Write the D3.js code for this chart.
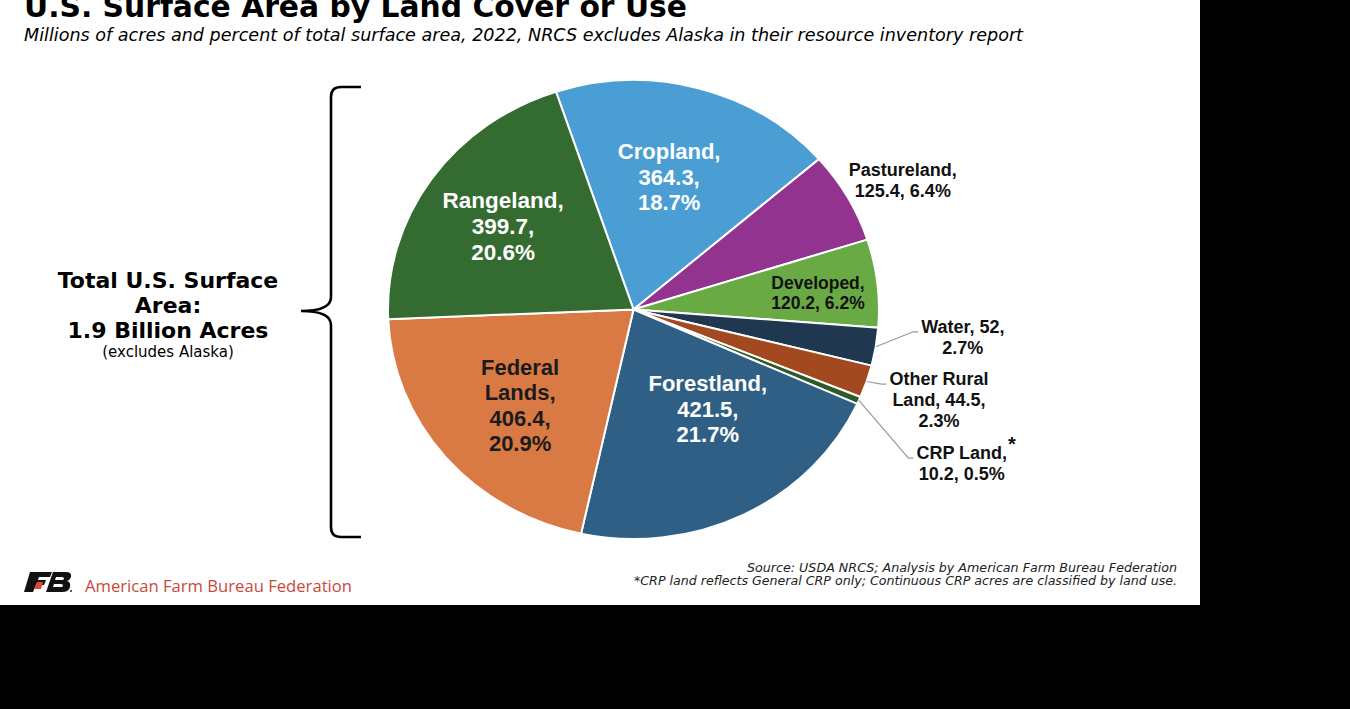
<!DOCTYPE html>
<html>
<head>
<meta charset="utf-8">
<script src="https://cdn.jsdelivr.net/npm/d3@7"></script>
<style>
  html, body { margin: 0; padding: 0; background: #000; }
  svg { display: block; }
</style>
</head>
<body>
<div id="chart"></div>
<script>
// values in millions of acres, 2022 (NRCS, excludes Alaska)
const categories = ["Cropland", "Pastureland", "Developed", "Water", "Other Rural Land",
  "CRP Land", "Forestland", "Federal Lands", "Rangeland"];
const acres = [364.3, 125.4, 120.2, 52, 44.5, 10.2, 421.5, 406.4, 399.7];
const percents = ["18.7%", "6.4%", "6.2%", "2.7%", "2.3%", "0.5%", "21.7%", "20.9%", "20.6%"];
const colors = ["#4a9ed4", "#92338f", "#6aaa45", "#1f3850", "#a2491f",
  "#2d5a27", "#2f5f84", "#d97944", "#336b30"];

// how many words go on each label line
const wrap = [[1, 1, 1], [1, 2], [1, 2], [2, 1], [2, 2, 1], [2, 2], [1, 1, 1], [1, 1, 1, 1], [1, 1, 1]];
// label placement: radius factor, angle shift (deg), font size, text colour, leader line
const place = [
  [0.595, -1.2, 22, "#fff", false],
  [1.234, 2.1, 18, "#111", false],
  [0.755, 1.1, 17.5, "#111", false],
  [1.347, -4.2, 18, "#111", true],
  [1.305, -0.7, 18, "#111", true],
  [1.496, 3.3, 18, "#111", true],
  [0.529, -8.2, 22, "#fff", false],
  [0.622, -2.0, 22, "#1b1b1b", false],
  [0.644, -0.2, 22.5, "#fff", false]
];

const width = 1350, height = 709;
const cx = 633.5, cy = 309.5, rx = 245.5, ry = 229.5;

const svg = d3.select("#chart").append("svg")
  .attr("width", width)
  .attr("height", height);

svg.append("rect")
  .attr("width", 1200)
  .attr("height", 605)
  .attr("fill", "#fff");

// title block (top is cropped in the original)
svg.append("text")
  .attr("x", 24).attr("y", 17)
  .attr("font-family", "DejaVu Sans").attr("font-weight", "bold")
  .attr("font-size", 30)
  .attr("textLength", 663).attr("lengthAdjust", "spacingAndGlyphs")
  .text("U.S. Surface Area by Land Cover or Use");

svg.append("text")
  .attr("x", 24).attr("y", 41)
  .attr("font-family", "DejaVu Sans").attr("font-style", "italic")
  .attr("font-size", 17)
  .attr("textLength", 999).attr("lengthAdjust", "spacingAndGlyphs")
  .text("Millions of acres and percent of total surface area, 2022, NRCS excludes Alaska in their resource inventory report");

// pie
const pie = d3.pie()
  .sort(null)
  .startAngle(-18.4 * Math.PI / 180)
  .endAngle((360 - 18.4) * Math.PI / 180);

const arcs = pie(acres);

const arc = d3.arc()
  .innerRadius(0)
  .outerRadius(ry);

const pieG = svg.append("g")
  .attr("transform", `translate(${cx},${cy}) scale(${rx / ry},1)`);

pieG.selectAll("path")
  .data(arcs)
  .join("path")
  .attr("d", arc)
  .attr("fill", (d, i) => colors[i])
  .attr("stroke", "#fff")
  .attr("stroke-width", 2)
  .attr("vector-effect", "non-scaling-stroke");

function polar(a, r) {
  return [cx + r * rx * Math.sin(a), cy - r * ry * Math.cos(a)];
}

const labels = svg.append("g")
  .attr("font-family", "Liberation Sans, Arial, sans-serif")
  .attr("font-weight", "bold");

arcs.forEach((d, i) => {
  const [rf, shift, size, fill, leader] = place[i];
  const mid = (d.startAngle + d.endAngle) / 2;
  const [lx, ly] = polar(mid + shift * Math.PI / 180, rf);

  const words = `${categories[i]}, ${acres[i]}, ${percents[i]}`.split(" ");
  const lines = [];
  let k = 0;
  wrap[i].forEach(n => { lines.push(words.slice(k, k + n).join(" ")); k += n; });
  const lh = size * 1.16;

  const t = labels.append("text")
    .attr("fill", fill)
    .attr("font-size", size)
    .attr("text-anchor", "middle");

  lines.forEach((line, j) => {
    t.append("tspan")
      .attr("x", lx)
      .attr("y", ly + (j - (lines.length - 1) / 2) * lh)
      .attr("dy", "0.35em")
      .text(line);
  });

  const firstW = t.select("tspan").node().getComputedTextLength();
  const firstY = ly - (lines.length - 1) / 2 * lh;

  if (categories[i] === "CRP Land") {
    labels.append("text")
      .attr("x", lx + firstW / 2 + 1)
      .attr("y", firstY - 2)
      .attr("font-size", 20)
      .attr("fill", "#111")
      .text("*");
  }

  if (leader) {
    const [ex, ey] = polar(mid, 1.0);
    const endX = lx - firstW / 2 - 3;
    const endY = firstY + 5;
    svg.append("polyline")
      .attr("points", [[ex, ey], [endX - 5, endY], [endX, endY]].map(p => p.join(",")).join(" "))
      .attr("fill", "none")
      .attr("stroke", "#9a9a9a")
      .attr("stroke-width", 1.2);
  }
});

// brace on the left
svg.append("path")
  .attr("d", "M361,87 H341 Q331,87 331,97 V297 Q331,311 301,311 Q331,311 331,325 V527 Q331,537 341,537 H361")
  .attr("fill", "none")
  .attr("stroke", "#000")
  .attr("stroke-width", 2.6);

const total = svg.append("g")
  .attr("font-family", "DejaVu Sans")
  .attr("text-anchor", "middle");

[["Total U.S. Surface", 288], ["Area:", 313], ["1.9 Billion Acres", 338]].forEach(([s, y]) => {
  total.append("text")
    .attr("x", 168).attr("y", y)
    .attr("font-weight", "bold")
    .attr("font-size", 22)
    .text(s);
});
total.append("text")
  .attr("x", 168).attr("y", 357)
  .attr("font-size", 15)
  .text("(excludes Alaska)");

// footer
const logo = svg.append("g");
logo.append("path")
  .attr("d", "M30,572 H52 L50,577 H39 L38,580 H46 L44,585 H36 L33,592 H24 Z")
  .attr("fill", "#111");
logo.append("path")
  .attr("d", "M37,582 H43 L41,589 H34 Z")
  .attr("fill", "#e0463a");
logo.append("path")
  .attr("d", "M53,572 H66 Q72,572 71,577 Q70,580 67,581 Q71,582 70,587 Q69,592 62,592 H46 Z M56,577 L55,580 H62 Q64,580 64,578.5 Q64,577 62,577 Z M54,584 L53,587 H61 Q63,587 63,585.5 Q63,584 61,584 Z")
  .attr("fill", "#111")
  .attr("fill-rule", "evenodd");
logo.append("circle").attr("cx", 71).attr("cy", 591).attr("r", 0.9).attr("fill", "#111");

svg.append("text")
  .attr("x", 85).attr("y", 592)
  .attr("font-family", "Open Sans")
  .attr("font-size", 15.5)
  .attr("fill", "#c9473d")
  .attr("textLength", 267).attr("lengthAdjust", "spacingAndGlyphs")
  .text("American Farm Bureau Federation");

const source = svg.append("g")
  .attr("font-family", "DejaVu Sans")
  .attr("font-style", "italic")
  .attr("font-size", 12)
  .attr("fill", "#222")
  .attr("text-anchor", "end");

source.append("text")
  .attr("x", 1177).attr("y", 572)
  .attr("textLength", 430).attr("lengthAdjust", "spacingAndGlyphs")
  .text("Source: USDA NRCS; Analysis by American Farm Bureau Federation");
source.append("text")
  .attr("x", 1177).attr("y", 585)
  .attr("textLength", 543).attr("lengthAdjust", "spacingAndGlyphs")
  .text("*CRP land reflects General CRP only; Continuous CRP acres are classified by land use.");
</script>
</body>
</html>
